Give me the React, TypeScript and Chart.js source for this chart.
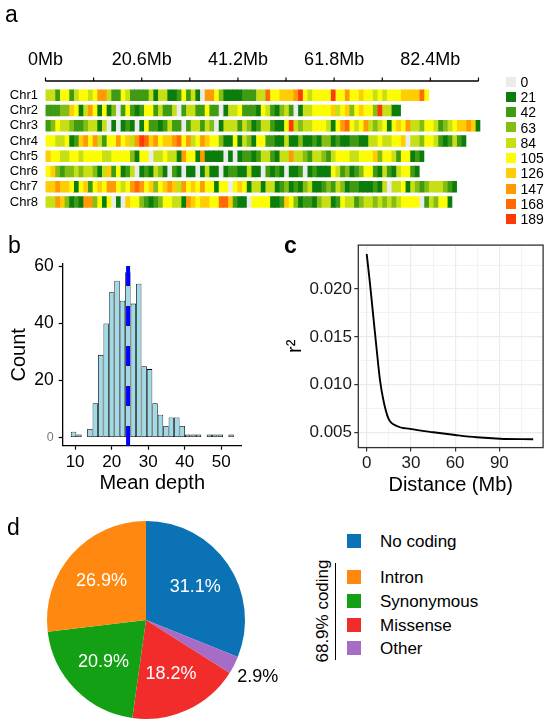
import React, { useEffect, useRef } from "react";
import { Chart, registerables } from "chart.js";

Chart.register(...registerables);

const FONT = "'Liberation Sans', Arial, Helvetica, sans-serif";

// ---------------- Panel a: SNP density, 1 Mb windows (digit = density class) ----------------
const chromosomes = ["Chr1", "Chr2", "Chr3", "Chr4", "Chr5", "Chr6", "Chr7", "Chr8"];
const chr1Density = "4425524554" + "5774225422" + "2241441125" + "2410775311" + "11222448" + "5566679545" + "5559557556" + "5545455566" + "6685";
const chr2Density = "2223365147" + "5151302521" + "2552422402" + "4422522014" + "45222154" + "2134201445" + "5556456356" + "55394411";
const chr3Density = "2354432234" + "4140101210" + "1522124220" + "2442430144" + "42431244" + "2115943445" + "5541578545" + "7434515657" + "4435542345" + "66761";
const chr4Density = "5544512675" + "7425575647" + "9867566785" + "7457655311" + "51431552" + "2114113112" + "1331211221" + "1445445560" + "443554212421";
const chr5Density = "6554455455" + "5544555531" + "5504454417" + "5517111101" + "01221244" + "2144744324" + "4324555445" + "5563554255" + "121";
const chr6Density = "5632334344" + "3146251240" + "1214310210" + "1101411012" + "21141102" + "1210112012" + "1115423123" + "552142145521";
const chr7Density = "6676651562" + "5657754578" + "7563567647" + "5657551550" + "56514414" + "4123121341" + "1232431221" + "1121404451" + "4323444321";
const chr8Density = "4476312177" + "3515010655" + "3212355441" + "7656655886" + "21105555" + "1126531221" + "3441254423" + "4434343455" + "550243551";
const densityClasses = [0, 21, 42, 63, 84, 105, 126, 147, 168, 189];
const densityColors = ["#ebebeb", "#0a7d0a", "#3f9b12", "#84bd13", "#c6e015", "#fcfc05", "#ffcd05", "#ff9a05", "#ff6a05", "#ff3805"];
const axisTicksMb = [0, 10.3, 20.6, 30.9, 41.2, 51.5, 61.8, 72.1, 82.4, 92.7];
const axisTickLabels = ["0Mb", "", "20.6Mb", "", "41.2Mb", "", "61.8Mb", "", "82.4Mb", ""];

// ---------------- Panel b: mean depth histogram ----------------
const depthBinCenters = [9.57, 11.06, 12.55, 14.03, 15.52, 17.01, 18.5, 19.98, 21.47, 22.96, 24.44, 25.93, 27.42, 28.91, 30.39, 31.88, 33.37, 34.85, 36.34, 37.83, 39.32, 40.8, 42.29, 43.78, 45.26, 46.75, 48.24, 49.73, 51.21, 52.7];
const depthCounts = [2, 1, 0, 3, 12, 29, 40, 51, 55, 48, 58, 47, 54, 25, 24, 12, 8, 4, 7, 7, 4, 1, 1, 1, 0, 1, 1, 1, 0, 1];
const meanDepth = 24.5;
const depthXTicks = [10, 20, 30, 40, 50];
const countYTicks = [0, 20, 40, 60];

// ---------------- Panel c: LD decay ----------------
const ldDistanceMb = [0, 2.2, 4.5, 6.8, 9, 11.3, 14.7, 20.4, 29.4, 45.2, 60, 74.6, 90.4, 113];
const ldR2 = [0.02365, 0.0206, 0.01711, 0.01363, 0.0105, 0.00841, 0.0065, 0.0057, 0.00539, 0.00504, 0.00476, 0.00452, 0.00437, 0.00431];
const ldXTicks = [0, 15, 30, 45, 60, 75, 90, 105];
const ldYTicks = [0.005, 0.0075, 0.01, 0.0125, 0.015, 0.0175, 0.02, 0.0225];

// ---------------- Panel d: SNP annotation ----------------
const snpClasses = ["No coding", "Other", "Missense", "Synonymous", "Intron"];
const snpPercents = [31.1, 2.9, 18.2, 20.9, 26.9];
const snpColors = ["#0b73b5", "#a66cc6", "#f22b2b", "#14a014", "#ff8811"];
const legendOrder = ["No coding", "Intron", "Synonymous", "Missense", "Other"];
const codingLabel = "68.9% coding";

const isMult = (v: number, step: number) => Math.abs(v / step - Math.round(v / step)) < 1e-6;

function Txt(props: { x: number; baseline: number; size: number; text: string; weight?: string; color?: string }) {
  const { x, baseline, size, text, weight, color } = props;
  return (
    <div
      style={{
        position: "absolute",
        left: x,
        top: baseline - 0.8465 * size,
        fontSize: size,
        lineHeight: size + "px",
        fontWeight: (weight as any) || "normal",
        color: color || "#000",
        whiteSpace: "nowrap",
        fontFamily: FONT,
      }}
    >
      {text}
    </div>
  );
}

export default function App() {
  const aRef = useRef<HTMLCanvasElement>(null);
  const bRef = useRef<HTMLCanvasElement>(null);
  const cRef = useRef<HTMLCanvasElement>(null);
  const dRef = useRef<HTMLCanvasElement>(null);

  useEffect(() => {
    const charts: Chart[] = [];

    // ---------- Panel a ----------
    const levels = [chr1Density, chr2Density, chr3Density, chr4Density, chr5Density, chr6Density, chr7Density, chr8Density].map((s) =>
      s.split("").map((d) => densityClasses[Number(d)])
    );
    const maxBins = Math.max(...levels.map((l) => l.length));
    const heatDatasets: any[] = [];
    for (let j = 0; j < maxBins; j++) {
      heatDatasets.push({
        data: levels.map((l) => (j < l.length ? [j, j + 1] : null)),
        backgroundColor: levels.map((l) => (j < l.length ? densityColors[densityClasses.indexOf(l[j])] : "rgba(0,0,0,0)")),
        borderWidth: 0,
        grouped: false,
        barThickness: 10.7,
        inflateAmount: 0.45,
      });
    }
    const topAxisPlugin = {
      id: "topAxis",
      afterDraw(chart: any) {
        const { ctx, chartArea } = chart;
        const xs = chart.scales.x;
        const y0 = chartArea.top - 6.5;
        ctx.save();
        ctx.strokeStyle = "#000";
        ctx.lineWidth = 1.5;
        ctx.beginPath();
        ctx.moveTo(xs.getPixelForValue(axisTicksMb[0]), y0);
        ctx.lineTo(xs.getPixelForValue(axisTicksMb[axisTicksMb.length - 1]), y0);
        ctx.stroke();
        ctx.lineWidth = 1.2;
        ctx.fillStyle = "#000";
        ctx.font = `18px ${FONT}`;
        ctx.textAlign = "center";
        ctx.textBaseline = "middle";
        axisTicksMb.forEach((v, i) => {
          const px = xs.getPixelForValue(v);
          ctx.beginPath();
          ctx.moveTo(px, y0);
          ctx.lineTo(px, y0 - 3.5);
          ctx.stroke();
          if (axisTickLabels[i]) ctx.fillText(axisTickLabels[i], px, y0 - 21);
        });
        ctx.restore();
      },
    };
    charts.push(
      new Chart(aRef.current!, {
        type: "bar",
        data: { labels: chromosomes, datasets: heatDatasets },
        options: {
          indexAxis: "y",
          responsive: false,
          animation: false,
          events: [],
          devicePixelRatio: 1,
          layout: { padding: { left: 0, top: 87.55, right: 17.8, bottom: 7.05 } },
          plugins: { legend: { display: false }, tooltip: { enabled: false } },
          scales: {
            x: { type: "linear", display: false, min: 0, max: 93.5 },
            y: {
              type: "category",
              afterFit: (s: any) => {
                s.width = 45.5;
              },
              grid: { display: false, drawTicks: false, tickLength: 0 },
              border: { display: false },
              ticks: { font: { family: FONT, size: 13 }, color: "#000", padding: 7.5, autoSkip: false },
            },
          },
        } as any,
        plugins: [topAxisPlugin],
      })
    );

    // ---------- Panel b ----------
    const vlinePlugin = {
      id: "meanLine",
      afterDatasetsDraw(chart: any) {
        const { ctx, chartArea } = chart;
        const px = chart.scales.x.getPixelForValue(meanDepth);
        ctx.save();
        ctx.strokeStyle = "#0000ff";
        ctx.lineWidth = 4;
        ctx.setLineDash([20, 20]);
        ctx.lineDashOffset = -2;
        ctx.beginPath();
        ctx.moveTo(px, chartArea.top);
        ctx.lineTo(px, chartArea.bottom);
        ctx.stroke();
        ctx.restore();
      },
    };
    charts.push(
      new Chart(bRef.current!, {
        type: "bar",
        data: {
          datasets: [
            {
              data: depthBinCenters.map((x, i) => ({ x, y: depthCounts[i] > 0 ? depthCounts[i] : null })),
              backgroundColor: "#9fdbe6",
              borderColor: "#000",
              borderWidth: 0.8,
              borderSkipped: false,
              barPercentage: 1,
              categoryPercentage: 1,
              inflateAmount: 0,
            },
          ],
        },
        options: {
          responsive: false,
          animation: false,
          events: [],
          devicePixelRatio: 1,
          layout: { padding: { left: 0, top: 39, right: 18.3, bottom: 2.3 } },
          plugins: { legend: { display: false }, tooltip: { enabled: false } },
          scales: {
            x: {
              type: "linear",
              offset: false,
              min: 6.6,
              max: 55.6,
              afterBuildTicks: (s: any) => {
                s.ticks = depthXTicks.map((value) => ({ value }));
              },
              afterFit: (s: any) => {
                s.height = 52;
              },
              grid: { display: true, offset: false, drawOnChartArea: false, drawTicks: true, tickLength: 4, tickColor: "#000", tickWidth: 1.2 },
              border: { display: true, color: "#000", width: 1.3 },
              ticks: { font: { family: FONT, size: 17 }, color: "#000", padding: 2, maxRotation: 0, autoSkip: false },
              title: { display: true, text: "Mean depth", font: { family: FONT, size: 20 }, color: "#000", padding: { top: 0, bottom: 2.7 } },
            },
            y: {
              type: "linear",
              min: -2.9,
              max: 60.9,
              afterBuildTicks: (s: any) => {
                s.ticks = countYTicks.map((value) => ({ value }));
              },
              afterFit: (s: any) => {
                s.width = 62.7;
              },
              grid: { display: true, drawOnChartArea: false, drawTicks: true, tickLength: 4, tickColor: "#000", tickWidth: 1.2 },
              border: { display: true, color: "#000", width: 1.3 },
              ticks: {
                font: (c: any) => ({ family: FONT, size: c.tick && c.tick.value === 0 ? 12.5 : 17.5 }),
                color: (c: any) => (c.tick && c.tick.value === 0 ? "#7a7a7a" : "#000"),
                padding: 5,
                autoSkip: false,
              },
              title: { display: true, text: "Count", font: { family: FONT, size: 20 }, color: "#000", padding: { top: 7, bottom: 0 } },
            },
          },
        } as any,
        plugins: [vlinePlugin],
      })
    );

    // ---------- Panel c ----------
    const boxPlugin = {
      id: "panelBox",
      afterDraw(chart: any) {
        const { ctx, chartArea } = chart;
        ctx.save();
        ctx.strokeStyle = "#333";
        ctx.lineWidth = 1.3;
        ctx.strokeRect(chartArea.left, chartArea.top, chartArea.right - chartArea.left, chartArea.bottom - chartArea.top);
        ctx.restore();
      },
    };
    charts.push(
      new Chart(cRef.current!, {
        type: "line",
        data: {
          datasets: [
            {
              data: ldDistanceMb.map((x, i) => ({ x, y: ldR2[i] })),
              borderColor: "#000",
              borderWidth: 1.9,
              pointRadius: 0,
              fill: false,
              cubicInterpolationMode: "monotone",
            },
          ],
        },
        options: {
          responsive: false,
          animation: false,
          events: [],
          devicePixelRatio: 1,
          layout: { padding: { left: 0, top: 20.1, right: 6.9, bottom: 0.4 } },
          plugins: { legend: { display: false }, tooltip: { enabled: false } },
          scales: {
            x: {
              type: "linear",
              min: -5.7,
              max: 119.7,
              afterBuildTicks: (s: any) => {
                s.ticks = ldXTicks.map((value) => ({ value }));
              },
              afterFit: (s: any) => {
                s.height = 52;
              },
              grid: {
                color: "#ebebeb",
                lineWidth: (c: any) => (c.tick && isMult(c.tick.value, 30) ? 1.2 : 0.6),
                tickColor: (c: any) => (c.tick && isMult(c.tick.value, 30) ? "#333" : "rgba(0,0,0,0)"),
                tickLength: 4,
                tickWidth: 1.2,
              },
              border: { display: false },
              ticks: {
                font: { family: FONT, size: 17 },
                color: "#1a1a1a",
                padding: 1.7,
                maxRotation: 0,
                autoSkip: false,
                callback: (v: any) => (isMult(Number(v), 30) ? String(v) : ""),
              },
              title: { display: true, text: "Distance (Mb)", font: { family: FONT, size: 20 }, color: "#000", padding: { top: 0, bottom: 2.6 } },
            },
            y: {
              type: "linear",
              min: 0.00344,
              max: 0.02458,
              afterBuildTicks: (s: any) => {
                s.ticks = ldYTicks.map((value) => ({ value }));
              },
              afterFit: (s: any) => {
                s.width = 88.3;
              },
              grid: {
                color: "#ebebeb",
                lineWidth: (c: any) => (c.tick && isMult(c.tick.value, 0.005) ? 1.2 : 0.6),
                tickColor: (c: any) => (c.tick && isMult(c.tick.value, 0.005) ? "#333" : "rgba(0,0,0,0)"),
                tickLength: 4,
                tickWidth: 1.2,
              },
              border: { display: false },
              ticks: {
                font: { family: FONT, size: 17 },
                color: "#1a1a1a",
                padding: 2.3,
                autoSkip: false,
                callback: (v: any) => (isMult(Number(v), 0.005) ? Number(v).toFixed(3) : ""),
              },
              title: { display: true, text: "r²", font: { family: FONT, size: 20 }, color: "#000", padding: { top: 13, bottom: 0 } },
            },
          },
        } as any,
        plugins: [boxPlugin],
      })
    );

    // ---------- Panel d ----------
    const pieLabelPlugin = {
      id: "pieLabels",
      afterDatasetsDraw(chart: any) {
        const meta = chart.getDatasetMeta(0);
        const ctx = chart.ctx;
        ctx.save();
        ctx.font = `18px ${FONT}`;
        ctx.textAlign = "center";
        ctx.textBaseline = "middle";
        meta.data.forEach((arc: any, i: number) => {
          const p = arc.getProps(["x", "y", "startAngle", "endAngle", "outerRadius"], true);
          const mid = (p.startAngle + p.endAngle) / 2;
          const v = snpPercents[i];
          const inside = v >= 5;
          const r = p.outerRadius * (inside ? 0.6 : 1.27);
          ctx.fillStyle = inside ? "#fff" : "#000";
          ctx.fillText(v.toFixed(1) + "%", p.x + Math.cos(mid) * r, p.y + Math.sin(mid) * r);
        });
        ctx.restore();
      },
    };
    charts.push(
      new Chart(dRef.current!, {
        type: "pie",
        data: {
          labels: snpClasses,
          datasets: [{ data: snpPercents, backgroundColor: snpColors, borderWidth: 0 }],
        },
        options: {
          responsive: false,
          animation: false,
          events: [],
          devicePixelRatio: 1,
          layout: { padding: { left: 47, top: 21, right: 55, bottom: 5 } },
          plugins: { legend: { display: false }, tooltip: { enabled: false } },
        } as any,
        plugins: [pieLabelPlugin],
      })
    );

    return () => charts.forEach((c) => c.destroy());
  }, []);

  const heatLegendY = [81.5, 96.8, 112.1, 127.4, 142.7, 158, 173.3, 188.6, 203.9, 219.2];
  const pieLegendY = [541, 577, 601, 625, 648];

  return (
    <div style={{ position: "absolute", left: 0, top: 0, width: 550, height: 724, overflow: "hidden", background: "#fff", fontFamily: FONT }}>
      <canvas ref={aRef} width={500} height={225} style={{ position: "absolute", left: 0, top: 0, width: 500, height: 225 }} />
      <canvas ref={bRef} width={260} height={275} style={{ position: "absolute", left: 0, top: 225, width: 260, height: 275 }} />
      <canvas ref={cRef} width={280} height={275} style={{ position: "absolute", left: 270, top: 225, width: 280, height: 275 }} />
      <canvas ref={dRef} width={300} height={224} style={{ position: "absolute", left: 0, top: 500, width: 300, height: 224 }} />

      <Txt x={5} baseline={22} size={23} text="a" />
      <Txt x={8} baseline={253} size={23} text="b" />
      <Txt x={284} baseline={253} size={23} text="c" weight="bold" />
      <Txt x={7} baseline={535} size={23} text="d" />

      {densityClasses.map((v, i) => (
        <React.Fragment key={"hl" + i}>
          <div style={{ position: "absolute", left: 505.5, top: heatLegendY[i] - 5, width: 10, height: 10, background: densityColors[i] }} />
          <Txt x={520.5} baseline={heatLegendY[i] + 5} size={14} text={String(v)} />
        </React.Fragment>
      ))}

      {legendOrder.map((name, i) => (
        <React.Fragment key={"pl" + i}>
          <div
            style={{
              position: "absolute",
              left: 347,
              top: pieLegendY[i] - 7,
              width: 14,
              height: 14,
              background: snpColors[snpClasses.indexOf(name)],
            }}
          />
          <Txt x={380} baseline={pieLegendY[i] + 6.1} size={17} text={name} />
        </React.Fragment>
      ))}
      <div style={{ position: "absolute", left: 334.5, top: 563, width: 1.3, height: 97, background: "#000" }} />
      <div
        style={{
          position: "absolute",
          left: 322,
          top: 611,
          transform: "translate(-50%, -50%) rotate(-90deg)",
          fontSize: 17,
          lineHeight: "17px",
          whiteSpace: "nowrap",
          fontFamily: FONT,
          color: "#000",
        }}
      >
        {codingLabel}
      </div>
    </div>
  );
}
